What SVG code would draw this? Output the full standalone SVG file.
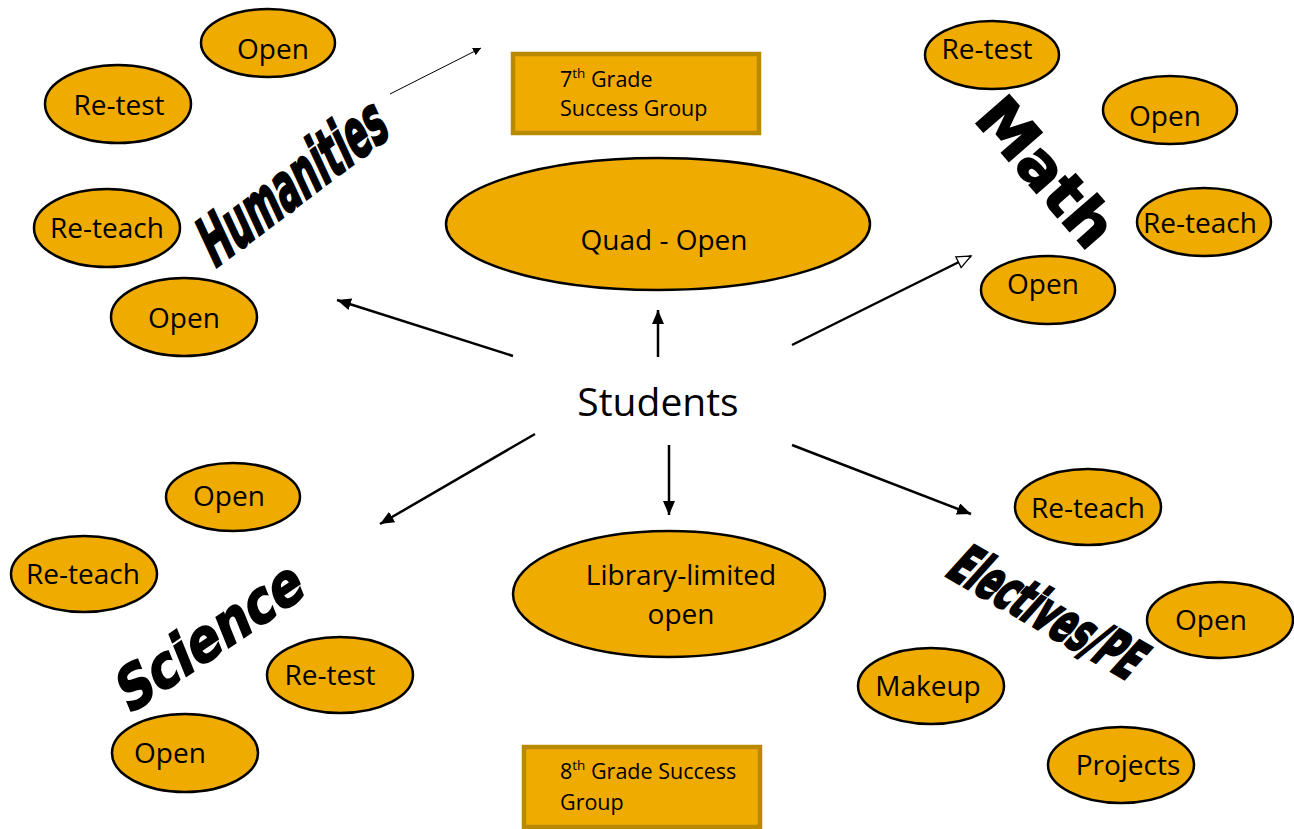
<svg xmlns="http://www.w3.org/2000/svg" width="1294" height="829" viewBox="0 0 1294 829">
<defs>
<style>
.e{fill:#F0AB00;stroke:#000;stroke-width:2.5}
.r{fill:#F0AB00;stroke:#B98A00;stroke-width:4.5}
.t{font-family:"Open Sans","Noto Sans",sans-serif;font-size:28px;fill:#000;text-anchor:middle}
.s{font-family:"Open Sans","Noto Sans",sans-serif;font-size:21.5px;fill:#000}
.w{font-family:"DejaVu Sans","Liberation Sans",sans-serif;font-weight:bold;fill:#000;stroke:#000;stroke-width:1.8;text-anchor:middle}
.c{stroke:#000;stroke-width:2.5;fill:none}
</style>
<marker id="ah" markerUnits="userSpaceOnUse" markerWidth="16" markerHeight="14" refX="14" refY="6" orient="auto">
<path d="M0,0 L14,6 L0,12 Z" fill="#000"/>
</marker>
<marker id="ao" markerUnits="userSpaceOnUse" markerWidth="18" markerHeight="16" refX="15" refY="7" orient="auto">
<path d="M1,1 L15,7 L1,13 Z" fill="#fff" stroke="#000" stroke-width="1.3"/>
</marker>
<marker id="as" markerUnits="userSpaceOnUse" markerWidth="10" markerHeight="10" refX="8" refY="4" orient="auto">
<path d="M0,0 L8,4 L0,8 Z" fill="#000"/>
</marker>
</defs>
<rect width="1294" height="829" fill="#fff"/>

<g id="connectors">
<line class="c" x1="513" y1="356" x2="337" y2="300" marker-end="url(#ah)"/>
<line class="c" x1="658" y1="357" x2="658" y2="310" marker-end="url(#ah)"/>
<line class="c" x1="792" y1="345" x2="971" y2="256" marker-end="url(#ao)"/>
<line class="c" x1="535" y1="434" x2="380" y2="524" marker-end="url(#ah)"/>
<line class="c" x1="669" y1="445" x2="669" y2="515" marker-end="url(#ah)"/>
<line class="c" x1="792" y1="445" x2="971" y2="514" marker-end="url(#ah)"/>
<line x1="390" y1="94" x2="481" y2="48" stroke="#000" stroke-width="1" marker-end="url(#as)"/>
</g>

<g id="students"><text class="t" x="658" y="416" style="font-size:39px">Students</text></g>

<g id="quad"><ellipse class="e" cx="658" cy="224" rx="212" ry="66"/><text class="t" x="664" y="250">Quad - Open</text></g>
<g id="library"><ellipse class="e" cx="669" cy="594" rx="156" ry="63"/><text class="t" x="681" y="585">Library-limited</text><text class="t" x="681" y="624">open</text></g>

<g id="grade7"><rect class="r" x="513" y="54" width="246" height="79"/><text class="s" x="560" y="87">7<tspan font-size="13.5" dy="-9">th</tspan><tspan dy="9"> Grade</tspan></text><text class="s" x="560" y="116">Success Group</text></g>
<g id="grade8"><rect class="r" x="524" y="747" width="236" height="80"/><text class="s" x="560" y="779">8<tspan font-size="13.5" dy="-9">th</tspan><tspan dy="9"> Grade Success</tspan></text><text class="s" x="560" y="810">Group</text></g>

<g id="humanities-label"><text class="w" transform="translate(293,182) rotate(-37) skewX(-12) scale(0.524,1)" y="22" style="font-size:66px;stroke-width:2.6" textLength="424" lengthAdjust="spacingAndGlyphs">Humanities</text></g>
<g id="math-label"><text class="w" transform="translate(1046,172) rotate(49)" y="21" style="font-size:60px" textLength="176" lengthAdjust="spacingAndGlyphs">Math</text></g>
<g id="science-label"><text class="w" transform="translate(210,636) rotate(-34) skewX(-12) scale(0.86,1)" y="20" style="font-size:58px;stroke-width:2" textLength="250" lengthAdjust="spacingAndGlyphs">Science</text></g>
<g id="electives-label"><text class="w" transform="translate(1048,613) rotate(30) skewX(-12) scale(0.5,1)" y="19" style="font-size:56px;stroke-width:2.8" textLength="424" lengthAdjust="spacingAndGlyphs">Electives/PE</text></g>

<g id="h-open1"><ellipse class="e" cx="268" cy="43" rx="67" ry="34"/><text class="t" x="273" y="59">Open</text></g>
<g id="h-retest"><ellipse class="e" cx="118" cy="104" rx="73" ry="39"/><text class="t" x="119" y="115">Re-test</text></g>
<g id="h-reteach"><ellipse class="e" cx="107" cy="228" rx="73" ry="39"/><text class="t" x="107" y="238">Re-teach</text></g>
<g id="h-open2"><ellipse class="e" cx="184" cy="317" rx="73" ry="39"/><text class="t" x="184" y="328">Open</text></g>

<g id="m-retest"><ellipse class="e" cx="992" cy="55" rx="67" ry="34"/><text class="t" x="987" y="59">Re-test</text></g>
<g id="m-open1"><ellipse class="e" cx="1170" cy="110" rx="67" ry="34"/><text class="t" x="1165" y="126">Open</text></g>
<g id="m-reteach"><ellipse class="e" cx="1204" cy="222" rx="67" ry="34"/><text class="t" x="1200" y="233">Re-teach</text></g>
<g id="m-open2"><ellipse class="e" cx="1048" cy="290" rx="67" ry="34"/><text class="t" x="1043" y="294">Open</text></g>

<g id="s-open1"><ellipse class="e" cx="233" cy="497" rx="67" ry="34"/><text class="t" x="229" y="506">Open</text></g>
<g id="s-reteach"><ellipse class="e" cx="84" cy="574" rx="73" ry="38"/><text class="t" x="83" y="584">Re-teach</text></g>
<g id="s-retest"><ellipse class="e" cx="340" cy="675" rx="73" ry="38"/><text class="t" x="330" y="685">Re-test</text></g>
<g id="s-open2"><ellipse class="e" cx="185" cy="753" rx="73" ry="39"/><text class="t" x="170" y="763">Open</text></g>

<g id="e-reteach"><ellipse class="e" cx="1088" cy="507" rx="73" ry="38"/><text class="t" x="1088" y="518">Re-teach</text></g>
<g id="e-open"><ellipse class="e" cx="1220" cy="620" rx="73" ry="38"/><text class="t" x="1211" y="630">Open</text></g>
<g id="e-makeup"><ellipse class="e" cx="931" cy="686" rx="73" ry="38"/><text class="t" x="928" y="696">Makeup</text></g>
<g id="e-projects"><ellipse class="e" cx="1121" cy="765" rx="73" ry="38"/><text class="t" x="1128" y="775">Projects</text></g>
</svg>
